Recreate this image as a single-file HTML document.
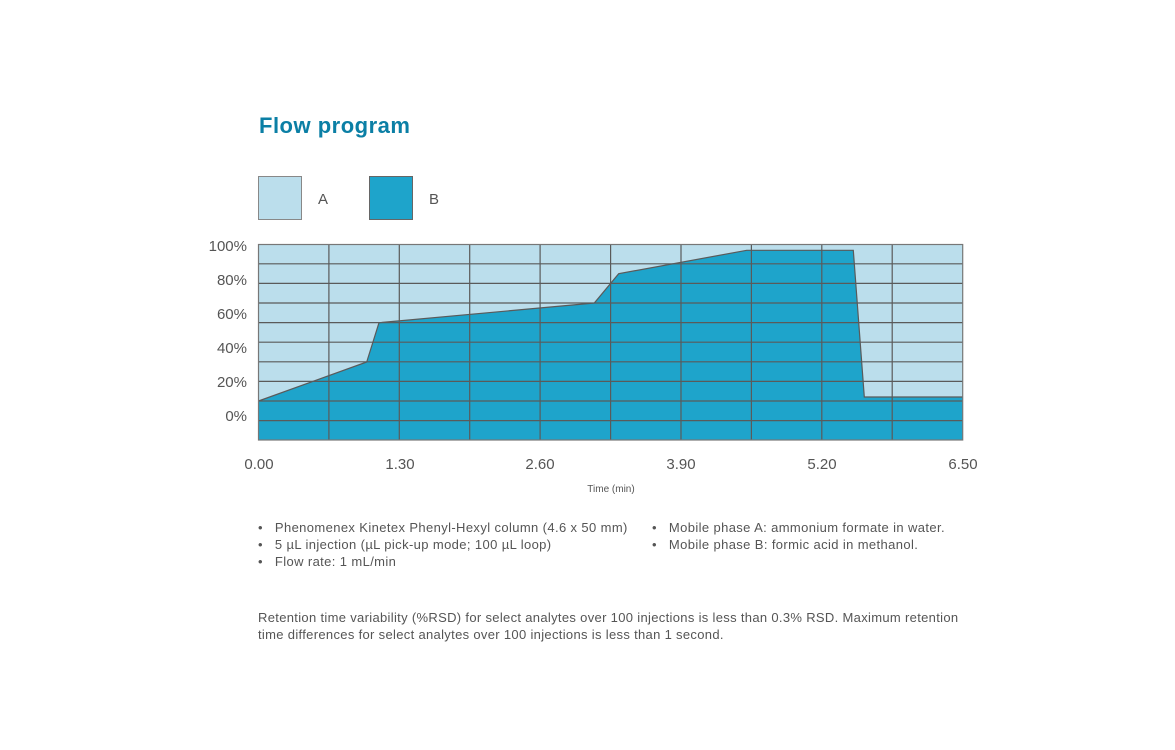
<!DOCTYPE html>
<html><head><meta charset="utf-8"><style>
body{margin:0;background:#fff;font-family:"Liberation Sans",sans-serif;color:#444;}
.a{position:absolute;white-space:nowrap;}
</style></head><body>
<div style="position:relative;width:1175px;height:750px;overflow:hidden">
<div class="a" style="left:259px;top:113px;font-size:22px;font-weight:bold;color:#0b7fa5;letter-spacing:0.5px">Flow program</div>
<div class="a" style="left:258px;top:176px;width:42px;height:42px;background:#bbdeec;border:1px solid #888"></div>
<div class="a" style="left:318px;top:191px;font-size:15px;color:#555">A</div>
<div class="a" style="left:369px;top:176px;width:42px;height:42px;background:#1ea4cb;border:1px solid #666"></div>
<div class="a" style="left:429px;top:191px;font-size:15px;color:#555">B</div>
<svg class="a" style="left:0;top:0" width="1175" height="750">
<rect x="258.5" y="244.5" width="704" height="195.5" fill="#bbdeec"/>
<polygon points="258.5,401 366.7,362 379,322.7 594.3,303 618.7,273.7 746.7,250.3 853.3,250.3 864.3,397 962.7,397 962.7,440 258.5,440" fill="#1ea4cb"/>
<g stroke="#5a5a5a" stroke-width="1.2" fill="none">
<path d="M258.5 263.8H962.7M258.5 283.4H962.7M258.5 303H962.7M258.5 322.6H962.7M258.5 342.2H962.7M258.5 361.8H962.7M258.5 381.4H962.7M258.5 401H962.7M258.5 420.6H962.7"/>
<path d="M328.9 244.5V440M399.3 244.5V440M469.7 244.5V440M540.1 244.5V440M610.6 244.5V440M681 244.5V440M751.4 244.5V440M821.8 244.5V440M892.2 244.5V440"/>
<polyline points="258.5,401 366.7,362 379,322.7 594.3,303 618.7,273.7 746.7,250.3 853.3,250.3 864.3,397 962.7,397"/>
<rect x="258.5" y="244.5" width="704.2" height="195.5" stroke="#777"/>
</g>
<g font-family="Liberation Sans, sans-serif" font-size="15" fill="#555" text-anchor="end">
<text x="247" y="251">100%</text><text x="247" y="285">80%</text><text x="247" y="319">60%</text><text x="247" y="353">40%</text><text x="247" y="387">20%</text><text x="247" y="421">0%</text>
</g>
<g font-family="Liberation Sans, sans-serif" font-size="15" fill="#555" text-anchor="middle">
<text x="259" y="469">0.00</text><text x="400" y="469">1.30</text><text x="540" y="469">2.60</text><text x="681" y="469">3.90</text><text x="822" y="469">5.20</text><text x="963" y="469">6.50</text>
<text x="611" y="492" font-size="10">Time (min)</text>
</g>
</svg>
<div class="a" style="left:258px;top:519px;font-size:13px;line-height:17px;color:#555;letter-spacing:0.38px">
•&nbsp;&nbsp;&nbsp;Phenomenex Kinetex Phenyl-Hexyl column (4.6 x 50 mm)<br>
•&nbsp;&nbsp;&nbsp;5 µL injection (µL pick-up mode; 100 µL loop)<br>
•&nbsp;&nbsp;&nbsp;Flow rate: 1 mL/min</div>
<div class="a" style="left:652px;top:519px;font-size:13px;line-height:17px;color:#555;letter-spacing:0.38px">
•&nbsp;&nbsp;&nbsp;Mobile phase A: ammonium formate in water.<br>
•&nbsp;&nbsp;&nbsp;Mobile phase B: formic acid in methanol.</div>
<div class="a" style="left:258px;top:609px;font-size:13px;line-height:17px;color:#555;letter-spacing:0.32px">Retention time variability (%RSD) for select analytes over 100 injections is less than 0.3% RSD. Maximum retention<br>time differences for select analytes over 100 injections is less than 1 second.</div>
</div>
</body></html>
